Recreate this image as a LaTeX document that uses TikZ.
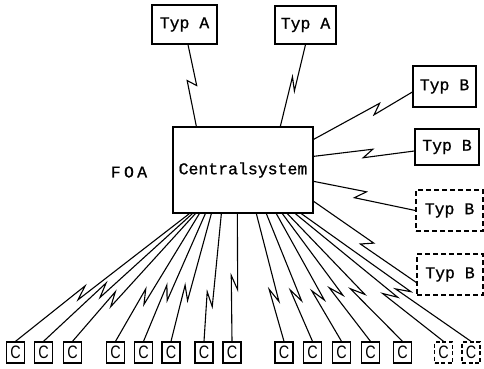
\documentclass[tikz,border=0pt]{standalone}
\usepackage{fontspec}
\newfontfamily\typf{Liberation Mono}[FakeBold=0.8]
\newfontfamily\cfont{Liberation Sans}[FakeStretch=0.8]
\usetikzlibrary{calc}
\tikzset{
  box/.style={draw, line width=1.3pt, inner sep=0pt, font=\typf\fontsize{16.5}{16.5}\selectfont},
  dbox/.style={box, dash pattern=on 5pt off 3pt},
  cbox/.style={draw, line width=1.3pt, minimum width=18pt, minimum height=21pt, inner sep=0pt, font=\cfont\fontsize{18}{18}\selectfont},
  dcbox/.style={cbox, dash pattern=on 4pt off 2.5pt},
  wire/.style={line width=1.1pt, line join=miter},
}
\newcommand\zz[5]{%
  \draw[wire] (#1) -- ($(#1)!#3!(#2)!#4!(#2)!#5!90:(#2)$) -- ($(#1)!#3!(#2)!-#4!(#2)!#5!-90:(#2)$) -- (#2);
}
\begin{document}
\begin{tikzpicture}[x=1pt,y=-1pt]
\useasboundingbox (0,0) rectangle (484,368);
% central system
\node[box, minimum width=140pt, minimum height=86pt] (cs) at (243,170) {Centralsystem};
\node[font=\typf\fontsize{16.5}{16.5}\selectfont\addfontfeatures{LetterSpace=20}, inner sep=0pt] (foa) at (129,172) {FOA};
% Typ A
\node[box, minimum width=65pt, minimum height=39pt] (a1) at (184.5,24.5) {Typ A};
\node[box, minimum width=61pt, minimum height=38pt] (a2) at (305.5,25) {Typ A};
% Typ B
\node[box, minimum width=63pt, minimum height=41pt] (b1) at (444.5,86.5) {Typ B};
\node[box, minimum width=64pt, minimum height=36pt] (b2) at (447,147) {Typ B};
\node[dbox, minimum width=67pt, minimum height=41pt] (b3) at (449.5,210.5) {Typ B};
\node[dbox, minimum width=66pt, minimum height=41pt] (b4) at (450,274.5) {Typ B};
% C boxes
\foreach \i/\x in {1/15.5,2/43.5,3/72.5,4/115.5,5/143.5,6/171,7/204,8/232,9/284,10/312.5,11/341.5,12/370.5,13/402.5}
  \node[cbox] (c\i) at (\x,352.5) {C};
\node[dcbox] (c14) at (443.5,352.5) {C};
\node[dcbox] (c15) at (471,352.5) {C};
% connection points on the central system
\coordinate (ta1) at ($(cs.north west)+(24,0)$);
\coordinate (ta2) at ($(cs.north west)+(108,0)$);
\coordinate (rb1) at ($(cs.north east)+(0,13)$);
\coordinate (rb2) at ($(cs.north east)+(0,30)$);
\coordinate (rb3) at ($(cs.north east)+(0,55)$);
\coordinate (rb4) at ($(cs.north east)+(0,75)$);
\coordinate (ea1) at ($(a1.south)+(3.5,0)$);
\coordinate (eb1) at ($(b1.west)+(0,5.5)$);
\coordinate (eb2) at ($(b2.west)+(0,4)$);
\coordinate (eb3) at ($(b3.west)+(0,0)$);
\coordinate (eb4) at ($(b4.west)+(0,8)$);
% Typ A links
\zz{ta1}{ea1}{0.53}{3pt}{4.5pt}
\zz{ta2}{a2.south}{0.52}{6.5pt}{3pt}
% Typ B links
\zz{rb1}{eb1}{0.64}{5pt}{4pt}
\zz{rb2}{eb2}{0.54}{5pt}{4pt}
\zz{rb3}{eb3}{0.46}{5pt}{4.5pt}
\zz{rb4}{eb4}{0.52}{5pt}{4.5pt}
% C links
\foreach \i/\dx/\t in {1/17/0.62,2/20/0.60,3/23/0.67,4/27/0.65,5/33/0.62,6/39/0.62,7/49/0.67,8/65/0.54,
  9/84/0.64,10/94/0.64,11/104/0.64,12/110/0.61,13/115/0.61,14/123/0.64,15/129/0.60}{
  \coordinate (s\i) at ($(cs.south west)+(\dx,0)$);
  \zz{s\i}{c\i.north}{\t}{7pt}{3.5pt}
}
\end{tikzpicture}
\end{document}
